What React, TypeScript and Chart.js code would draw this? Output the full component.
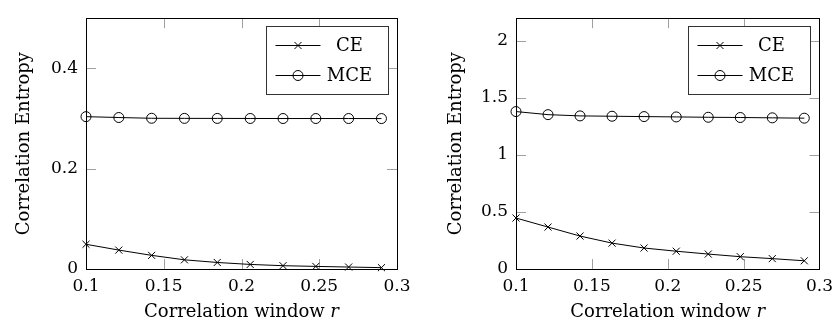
import React, { useEffect, useRef } from 'react';
import { Chart, registerables } from 'chart.js';

Chart.register(...registerables);

// ---- data ----
const rValues = [0.1, 0.1211, 0.1422, 0.1633, 0.1844, 0.2056, 0.2267, 0.2478, 0.2689, 0.29];
const ceLeft = [0.0493, 0.0377, 0.0272, 0.0183, 0.013, 0.0091, 0.0066, 0.0052, 0.0039, 0.0027];
const mceLeft = [0.3037, 0.302, 0.3005, 0.3003, 0.3002, 0.3001, 0.3, 0.3, 0.3, 0.2999];
const ceRight = [0.447, 0.368, 0.289, 0.227, 0.184, 0.156, 0.131, 0.108, 0.091, 0.072];
const mceRight = [1.381, 1.354, 1.343, 1.34, 1.337, 1.334, 1.331, 1.329, 1.326, 1.323];

const xTickValues = [0.1, 0.15, 0.2, 0.25, 0.3];
const xTickLabels = ['0.1', '0.15', '0.2', '0.25', '0.3'];
const yTickValuesLeft = [0, 0.2, 0.4];
const yTickLabelsLeft = ['0', '0.2', '0.4'];
const yTickValuesRight = [0, 0.5, 1, 1.5, 2];
const yTickLabelsRight = ['0', '0.5', '1', '1.5', '2'];

const seriesNames = ['CE', 'MCE'];
const xTitleMain = 'Correlation window ';
const xTitleVar = 'r';
const yTitle = 'Correlation Entropy';

const FONT = "'DejaVu Serif', serif";

const frameTicksPlugin = {
  id: 'frameTicks',
  beforeDatasetsDraw(chart: any) {
    const { ctx, chartArea } = chart;
    const { left, right, top, bottom } = chartArea;
    const xs = chart.scales.x;
    const ys = chart.scales.y;
    const L = 10;
    ctx.save();
    ctx.strokeStyle = '#a0a0a0';
    ctx.lineWidth = 1;
    ctx.beginPath();
    xs.ticks.forEach((t: any) => {
      const px = Math.round(xs.getPixelForValue(t.value)) + 0.5;
      if (px <= left + 2 || px >= right - 2) return;
      ctx.moveTo(px, bottom);
      ctx.lineTo(px, bottom - L);
      ctx.moveTo(px, top);
      ctx.lineTo(px, top + L);
    });
    ys.ticks.forEach((t: any) => {
      const py = Math.round(ys.getPixelForValue(t.value)) + 0.5;
      if (py <= top + 2 || py >= bottom - 2) return;
      ctx.moveTo(left, py);
      ctx.lineTo(left + L, py);
      ctx.moveTo(right, py);
      ctx.lineTo(right - L, py);
    });
    ctx.stroke();
    ctx.strokeStyle = '#000';
    ctx.strokeRect(Math.round(left) + 0.5, Math.round(top) + 0.5, Math.round(right - left), Math.round(bottom - top));
    ctx.restore();
  },
};

function drawMarker(ctx: CanvasRenderingContext2D, style: string, cx: number, cy: number) {
  ctx.beginPath();
  if (style === 'crossRot') {
    const h = 3.5;
    ctx.moveTo(cx - h, cy - h);
    ctx.lineTo(cx + h, cy + h);
    ctx.moveTo(cx - h, cy + h);
    ctx.lineTo(cx + h, cy - h);
  } else {
    ctx.arc(cx, cy, 5, 0, Math.PI * 2);
  }
  ctx.stroke();
}

const legendTitlePlugin = {
  id: 'legendTitle',
  afterDraw(chart: any) {
    const { ctx, chartArea } = chart;
    const { left, right, top, bottom } = chartArea;
    ctx.save();
    // legend box
    const w = 122;
    const h = 68;
    const bx = Math.round(right - 9 - w) + 0.5;
    const by = Math.round(top + 8) + 0.5;
    ctx.fillStyle = '#fff';
    ctx.fillRect(bx, by, w, h);
    ctx.strokeStyle = '#333';
    ctx.lineWidth = 1;
    ctx.strokeRect(bx, by, w, h);
    chart.data.datasets.forEach((ds: any, i: number) => {
      const ry = by + 19 + i * 30;
      ctx.strokeStyle = '#000';
      ctx.beginPath();
      ctx.moveTo(bx + 9, ry);
      ctx.lineTo(bx + 54, ry);
      ctx.stroke();
      drawMarker(ctx, ds.pointStyle, bx + 31.5, ry);
      ctx.fillStyle = '#000';
      ctx.font = `18px ${FONT}`;
      ctx.textAlign = 'center';
      ctx.textBaseline = 'middle';
      ctx.fillText(ds.label, bx + 83, ry + 1);
    });
    // x title with italic variable
    ctx.font = `18px ${FONT}`;
    const w1 = ctx.measureText(xTitleMain).width;
    ctx.font = `italic 18px ${FONT}`;
    const w2 = ctx.measureText(xTitleVar).width;
    const cx = (left + right) / 2;
    const x0 = cx - (w1 + w2) / 2;
    const base = bottom + 48;
    ctx.fillStyle = '#000';
    ctx.textAlign = 'left';
    ctx.textBaseline = 'alphabetic';
    ctx.font = `18px ${FONT}`;
    ctx.fillText(xTitleMain, x0, base);
    ctx.font = `italic 18px ${FONT}`;
    ctx.fillText(xTitleVar, x0 + w1, base);
    ctx.restore();
  },
};

type PanelProps = {
  ce: number[];
  mce: number[];
  yMax: number;
  yTicks: number[];
  yLabels: string[];
  yWidth: number;
  padRight: number;
  titlePad: number;
};

function Panel({ ce, mce, yMax, yTicks, yLabels, yWidth, padRight, titlePad }: PanelProps) {
  const ref = useRef<HTMLCanvasElement | null>(null);
  useEffect(() => {
    if (!ref.current) return;
    Chart.defaults.font.family = FONT;
    Chart.defaults.color = '#000';
    const mk = (label: string, vals: number[], style: string) => ({
      label,
      data: rValues.map((x, i) => ({ x, y: vals[i] })),
      borderColor: '#000',
      borderWidth: 1,
      pointStyle: style,
      pointRadius: 5,
      pointBorderWidth: 1,
      pointBorderColor: '#000',
      pointBackgroundColor: 'rgba(0,0,0,0)',
      tension: 0,
      fill: false,
      clip: false,
    });
    const chart = new Chart(ref.current, {
      type: 'line',
      data: {
        datasets: [mk(seriesNames[0], ce, 'crossRot'), mk(seriesNames[1], mce, 'circle')] as any,
      },
      options: {
        responsive: false,
        animation: false,
        devicePixelRatio: 1,
        layout: { padding: { left: 0, right: padRight, top: 11, bottom: 0 } },
        plugins: { legend: { display: false }, tooltip: { enabled: false } },
        scales: {
          x: {
            type: 'linear',
            min: 0.1,
            max: 0.3,
            grid: { display: false, drawTicks: false },
            border: { display: false },
            afterBuildTicks: (s: any) => {
              s.ticks = xTickValues.map((v) => ({ value: v }));
            },
            afterFit: (s: any) => {
              s.height = 56;
            },
            ticks: {
              padding: 7,
              autoSkip: false,
              maxRotation: 0,
              font: { size: 17, family: FONT },
              color: '#000',
              callback: (v: any) => xTickLabels[xTickValues.indexOf(Number(v))] ?? '',
            },
          },
          y: {
            type: 'linear',
            min: 0,
            max: yMax,
            grid: { display: false, drawTicks: false },
            border: { display: false },
            afterBuildTicks: (s: any) => {
              s.ticks = yTicks.map((v) => ({ value: v }));
            },
            afterFit: (s: any) => {
              s.width = yWidth;
            },
            ticks: {
              padding: 8,
              autoSkip: false,
              font: { size: 17, family: FONT },
              color: '#000',
              callback: (v: any) => yLabels[yTicks.indexOf(Number(v))] ?? '',
            },
            title: {
              display: true,
              text: yTitle,
              color: '#000',
              font: { size: 18, family: FONT },
              padding: { top: titlePad, bottom: 0 },
            },
          },
        },
      } as any,
      plugins: [frameTicksPlugin, legendTitlePlugin],
    });
    return () => chart.destroy();
  }, []);
  return <canvas ref={ref} width={420} height={325} style={{ display: 'block', width: 420, height: 325 }} />;
}

export default function App() {
  return (
    <div style={{ position: 'fixed', left: 0, top: 0, width: 840, height: 325, display: 'flex', background: '#fff' }}>
      <Panel ce={ceLeft} mce={mceLeft} yMax={0.5} yTicks={yTickValuesLeft} yLabels={yTickLabelsLeft} yWidth={86} padRight={23} titlePad={14} />
      <Panel ce={ceRight} mce={mceRight} yMax={2.2} yTicks={yTickValuesRight} yLabels={yTickLabelsRight} yWidth={96} padRight={13} titlePad={26} />
    </div>
  );
}
